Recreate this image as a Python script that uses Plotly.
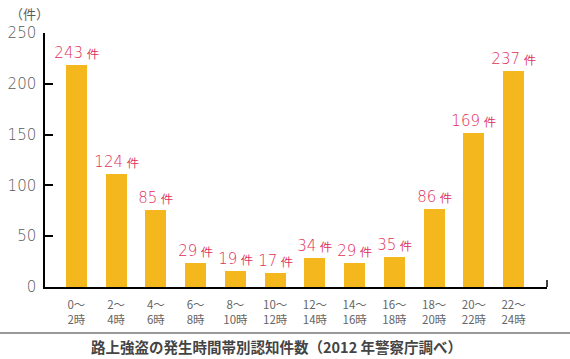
import plotly.graph_objects as go

band_start = ["0～", "2～", "4～", "6～", "8～", "10～", "12～", "14～", "16～", "18～", "20～", "22～"]
band_end = ["2時", "4時", "6時", "8時", "10時", "12時", "14時", "16時", "18時", "20時", "22時", "24時"]
# counts as printed above each bar
counts = [243, 124, 85, 29, 19, 17, 34, 29, 35, 86, 169, 237]
# bar heights as drawn against the y axis
bar_heights = [219, 111, 76, 24, 15.5, 13.5, 29, 24, 30, 77, 152, 213]
y_ticks = [0, 50, 100, 150, 200, 250]

BAR = "#F4B71E"
RED = "#E0305A"
GREY = "#5a5a5a"
FONT = "Noto Sans CJK JP"

x = list(range(len(band_start)))
tick_text = [f"{a}<br>{b}" for a, b in zip(band_start, band_end)]
labels = [f"{c}<span style='font-size:11.5px'> 件</span>" for c in counts]

fig = go.Figure(go.Bar(
    x=x, y=bar_heights, width=0.53, marker=dict(color=BAR, line=dict(width=0)),
    text=labels, textposition="outside", cliponaxis=False, constraintext="none",
    textfont=dict(color=RED, size=15, family="DejaVu Sans", weight=300),
))

annotations = [
    dict(text="（件）", xref="paper", yref="paper", x=-16/502, y=1+19/253.5, showarrow=False,
         font=dict(size=13, color=GREY, family=FONT), xanchor="center", yanchor="middle"),
    dict(text="<b>路上強盗の発生時間帯別認知件数（2012 年警察庁調べ）</b>", xref="paper", yref="paper",
         x=(276-45)/502, y=-(346-287)/253.5, showarrow=False,
         font=dict(size=14.5, color="#444", family=FONT), xanchor="center", yanchor="middle"),
]

fig.update_layout(
    width=570, height=359,
    margin=dict(l=45, r=23, t=33, b=72, autoexpand=False),
    plot_bgcolor="white", paper_bgcolor="white",
    showlegend=False, bargap=0,
    font=dict(family=FONT, color=GREY),
    xaxis=dict(range=[-0.79, 11.84], tickmode="array", tickvals=x, ticktext=tick_text,
               showline=True, linecolor="black", linewidth=1.5, ticks="", automargin=False,
               showgrid=False, zeroline=False, tickfont=dict(size=11.5, color="#666", family=FONT),
               ticklabelstandoff=6),
    yaxis=dict(range=[0, 250], tickmode="array", tickvals=y_ticks, automargin=False,
               showline=True, linecolor="black", linewidth=1.5, ticks="inside", ticklen=8,
               tickcolor="black", tickwidth=1.5, showgrid=False, zeroline=False,
               tickfont=dict(size=15, color=GREY, family="DejaVu Sans", weight=300), ticklabelstandoff=4),
    shapes=[
        dict(type="line", xref="paper", yref="paper", x0=1, x1=1, y0=0, y1=0.028,
             line=dict(color="black", width=1.5)),
        dict(type="line", xref="paper", yref="paper", x0=-45/502, x1=1+23/502, y0=-46/253.5, y1=-46/253.5,
             line=dict(color="#777", width=1.5)),
    ],
    annotations=annotations,
)

fig.write_html("out.html", config={"displayModeBar": False},
               post_script="document.body.style.margin='0';document.body.style.padding='0';")
